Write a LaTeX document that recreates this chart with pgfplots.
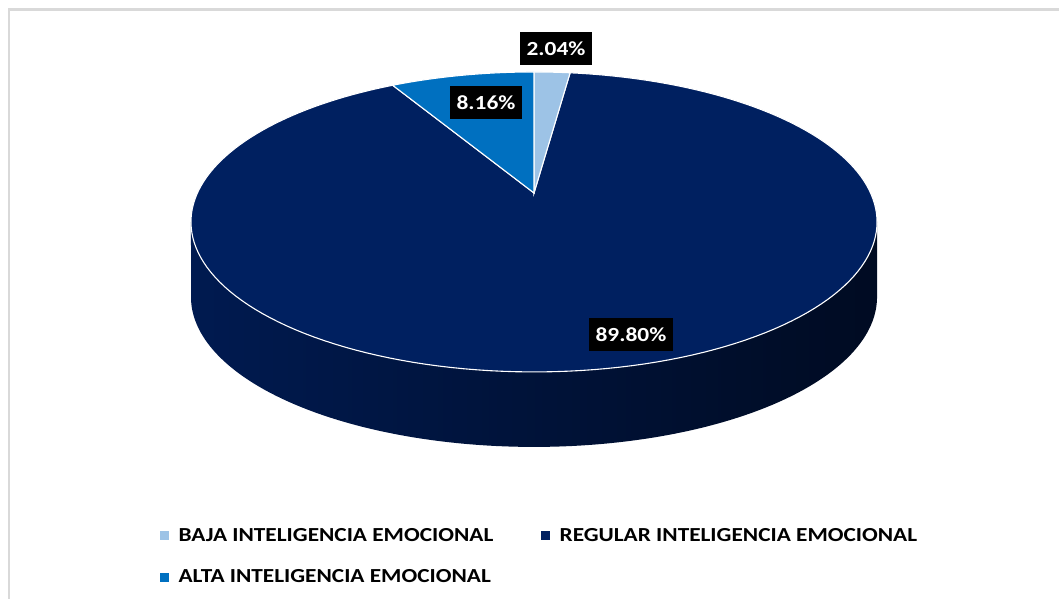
\documentclass[border=0pt]{standalone}
\usepackage{fontspec}
\setmainfont{Carlito}[FakeStretch=1.17]
\usepackage{pgfplots}
\pgfplotsset{compat=1.18}
\definecolor{cBaja}{HTML}{9DC3E6}
\definecolor{cReg}{HTML}{002060}
\definecolor{cAlta}{HTML}{0070C0}
\definecolor{sideL}{HTML}{001A50}
\definecolor{sideR}{HTML}{000B22}
\definecolor{frameC}{HTML}{D9D9D9}
% data (percent)
\def\pBaja{2.04}
\def\pReg{89.80}
\def\pAlta{8.16}
\begin{document}
\begin{tikzpicture}
\pgfmathsetmacro{\aA}{0}
\pgfmathsetmacro{\aB}{3.6*\pBaja}
\pgfmathsetmacro{\aC}{\aB+3.6*\pReg}
\pgfmathsetmacro{\aD}{\aC+3.6*\pAlta}
\begin{axis}[
  scale only axis, width=1059bp, height=599bp,
  xmin=0, xmax=1059, ymin=0, ymax=599,
  hide axis, clip=true,
  declare function={
    px(\t)=534+336.6*sin(\t)/(1+0.193*cos(\t));
    py(\t)=406+144.4*cos(\t)/(1+0.193*cos(\t));
    sT(\s)=(\s<=1)*(101.13+157.74*\s)+(\s>1)*(258.87-157.74*(\s-1));
    sO(\s)=(\s>1)*75;
  },
  legend columns=2,
  legend cell align=left,
  legend style={draw=none, fill=none, at={(axis cs:157,75)}, anchor=north west,
    font=\bfseries\fontsize{19.9bp}{22bp}\selectfont,
    /tikz/every odd column/.append style={column sep=8bp},
    /tikz/every even column/.append style={column sep=46bp},
    row sep=23bp},
]
% background and frame
\addplot[forget plot, fill=white, draw=none] coordinates {(0,0) (1059,0) (1059,599) (0,599)} -- cycle;
\addplot[forget plot, draw=frameC, line width=2.5bp] coordinates {(9,-5) (9,589.5) (1065,589.5)};
% side wall
\addplot[forget plot, left color=sideL, right color=sideR, draw=none, domain=0:2, samples=241, variable=\s]
  ({px(sT(\s))}, {py(sT(\s))-sO(\s)}) -- cycle;
% top face slices
\addplot[forget plot, fill=cReg, draw=white, line width=1.1bp, domain=\aB:\aC, samples=180, variable=\t]
  ({px(\t)}, {py(\t)}) -- (axis cs:534,406) -- cycle;
\addplot[forget plot, fill=cBaja, draw=white, line width=1.1bp, domain=\aA:\aB, samples=20, variable=\t]
  ({px(\t)}, {py(\t)}) -- (axis cs:534,406) -- cycle;
\addplot[forget plot, fill=cAlta, draw=white, line width=1.1bp, domain=\aC:\aD, samples=40, variable=\t]
  ({px(\t)}, {py(\t)}) -- (axis cs:534,406) -- cycle;
% data labels
\tikzset{lab/.style={fill=black, text=white, font=\bfseries\fontsize{20bp}{22bp}\selectfont,
  inner xsep=7bp, minimum height=33bp}}
\node[lab] at (axis cs:556,550) {\pBaja\%};
\node[lab] at (axis cs:486,496) {\pAlta\%};
\node[lab] at (axis cs:631,264) {\pReg\%};
% legend
\addlegendimage{legend image code/.code={\fill[cBaja] (0bp,-4bp) rectangle (8bp,4bp);}}
\addlegendentry{BAJA INTELIGENCIA EMOCIONAL}
\addlegendimage{legend image code/.code={\fill[cReg] (0bp,-4bp) rectangle (8bp,4bp);}}
\addlegendentry{REGULAR INTELIGENCIA EMOCIONAL}
\addlegendimage{legend image code/.code={\fill[cAlta] (0bp,-4bp) rectangle (8bp,4bp);}}
\addlegendentry{ALTA INTELIGENCIA EMOCIONAL}
\end{axis}
\end{tikzpicture}
\end{document}
